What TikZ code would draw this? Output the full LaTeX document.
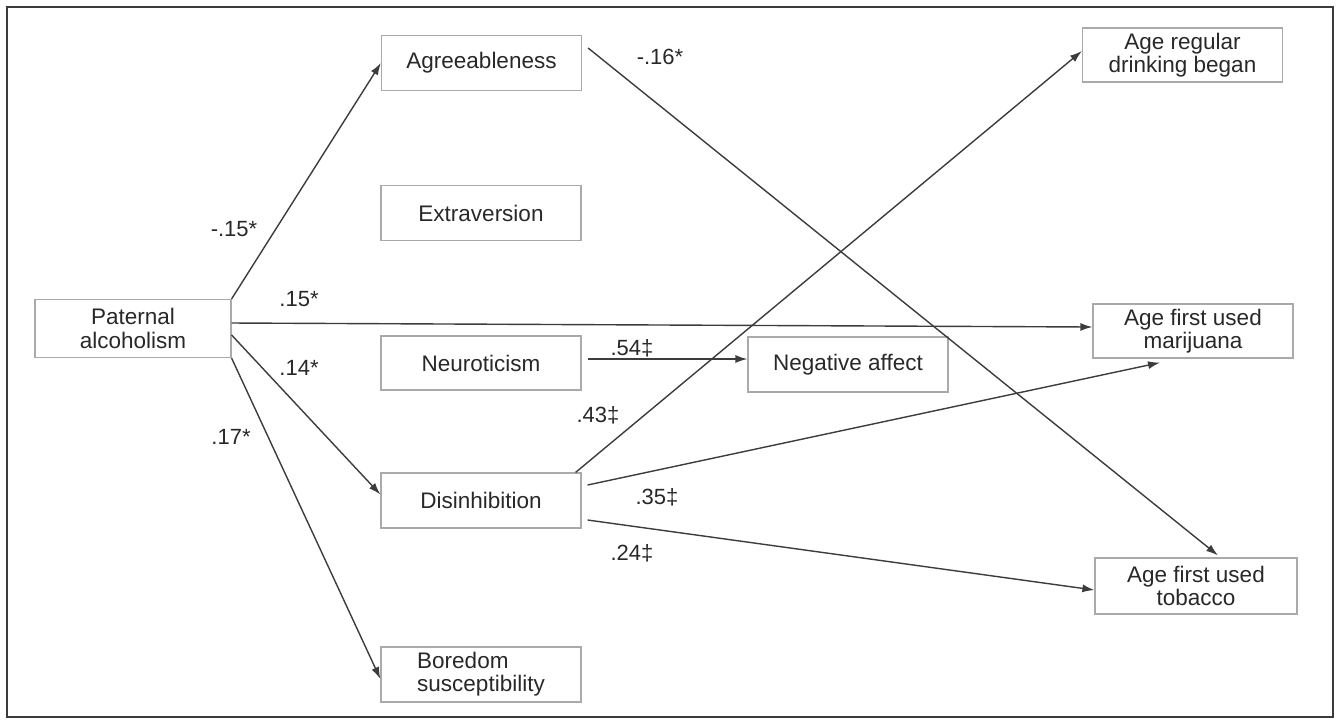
\documentclass[tikz,border=0pt]{standalone}
\usepackage{fontspec}
\setmainfont{Liberation Sans}
\usepackage{xcolor}
\usetikzlibrary{
  arrows.meta,
  positioning,
  calc
}
\definecolor{lineclr}{RGB}{60,60,60}
\definecolor{boxclr}{RGB}{170,170,170}
\definecolor{txtclr}{RGB}{40,40,40}

\begin{document}
\begin{tikzpicture}[
  x=0.5pt, y=-0.5pt,
  var/.style={
    draw=boxclr, line width=0.6pt,
    text=txtclr, align=center, inner sep=2pt,
    minimum width=100pt, minimum height=27.5pt,
    font=\fontsize{11.25}{11.6}\selectfont
  },
  link/.style={
    draw=lineclr, line width=0.7pt,
    -{Latex[length=6pt,width=4pt]}
  },
  coef/.style={
    text=txtclr, inner sep=0pt,
    font=\fontsize{11}{12}\selectfont
  }
]
\useasboundingbox (0,0) rectangle (1339,720);
\draw[lineclr, line width=1.1pt] (7,7) rectangle (1333,717);

% variables
\node[var, minimum width=98pt, minimum height=29pt] (pa) at (133,328.5) {Paternal\\alcoholism};
\node[var] (agree)  at (481.5,63)  {Agreeableness};
\node[var] (extra)  at (481,213)   {Extraversion};
\node[var, minimum height=27pt] (neuro) at (481,363) {Neuroticism};
\node[var] (disinh) at (481,500.5) {Disinhibition};
\node[var, align=left] (bored) at (481,674.5) {Boredom\\susceptibility};
\node[var] (negaff) at (848,364.5) {Negative affect};
\node[var, minimum height=27pt] (drink) at (1182.5,55) {Age regular\\drinking began};
\node[var, minimum height=27pt] (marij) at (1193,331) {Age first used\\marijuana};
\node[var, minimum width=101pt, minimum height=28pt] (tobac) at (1196,586) {Age first used\\tobacco};

% paths
\draw[link] (pa.north east) -- (agree.west);
\draw[link] ($(pa.east)+(0,-5.5)$) -- ($(marij.west)+(0,-4)$);
\draw[link] ($(pa.east)+(0,6.5)$) -- ($(disinh.west)+(0,-6)$);
\draw[link] (pa.south east) -- ($(bored.west)+(0,4.5)$);
\draw[link] ($(neuro.east)+(6,-4)$) -- ($(negaff.west)+(0,-5.5)$);
\draw[link] ($(disinh.north east)+(-6,0)$) -- ($(drink.west)+(0,-4)$);
\draw[link] ($(disinh.east)+(6,-15.5)$) -- ($(marij.south)+(-33,4)$);
\draw[link] ($(disinh.east)+(6,19.5)$) -- ($(tobac.west)+(0,4)$);
\draw[link] ($(agree.east)+(6,-15)$) -- ($(tobac.north)+(22,-2)$);

% coefficients
\node[coef] (c1) at (234,229) {-.15*};
\node[coef] (c2) at (299,299) {.15*};
\node[coef] (c3) at (299,368) {.14*};
\node[coef] (c4) at (231,437) {.17*};
\node[coef] (c5) at (660,57)  {-.16*};
\node[coef] (c6) at (632,348) {.54‡};
\node[coef] (c7) at (598,415) {.43‡};
\node[coef] (c8) at (657,497) {.35‡};
\node[coef] (c9) at (632,553) {.24‡};
\end{tikzpicture}
\end{document}
